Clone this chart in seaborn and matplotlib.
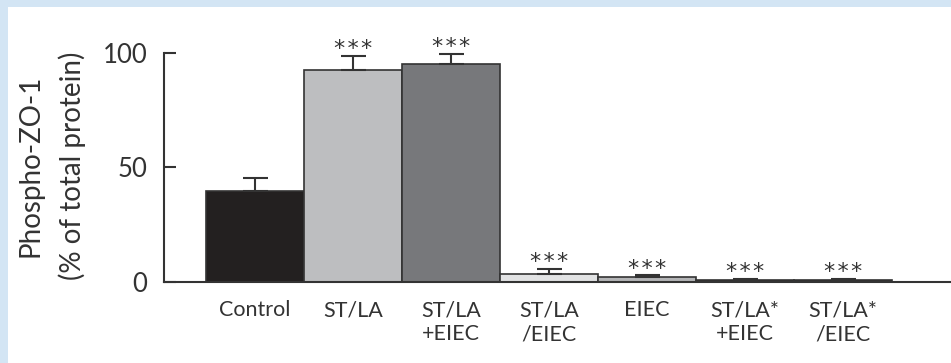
import matplotlib
matplotlib.use('Agg')
import matplotlib.pyplot as plt
import seaborn as sns
import numpy as np
from matplotlib.patches import Rectangle

# data
groups = ['Control', 'ST/LA', 'ST/LA\n+EIEC', 'ST/LA\n/EIEC', 'EIEC',
          'ST/LA*\n+EIEC', 'ST/LA*\n/EIEC']
means = [39.7, 92.6, 95.2, 3.5, 2.2, 1.0, 1.0]
sem = [5.8, 6.1, 4.4, 2.2, 0.7, 0.4, 0.4]
stars = ['', '***', '***', '***', '***', '***', '***']
colors = ['#231f20', '#bcbec0', '#77787b', '#e2e3e4', '#b4b5b7', '#231f20', '#231f20']

sns.set_theme(style='white')
plt.rcParams['font.family'] = ['Lato', 'DejaVu Sans']
ink = '#333333'

fig = plt.figure(figsize=(9.51, 3.63), dpi=100)
fig.patch.set_facecolor('#d3e5f4')
# white inner page over the blue border
fig.patches.append(Rectangle((8 / 951, 0), 1, 1 - 7 / 363, transform=fig.transFigure,
                             facecolor='white', edgecolor='none', zorder=-10))

ax = fig.add_axes([164 / 951, 1 - 282 / 363, 1 - 164 / 951, (282 - 53) / 363])
ax.set_facecolor('none')

sns.barplot(x=groups, y=means, hue=groups, palette=colors, width=1.0,
            edgecolor=ink, linewidth=1.2, legend=False, ax=ax, zorder=2)

x = np.arange(len(groups))
ax.errorbar(x, means, yerr=[np.zeros(len(sem)), sem], fmt='none', ecolor=ink,
            elinewidth=1.5, capsize=9, capthick=1.5, zorder=3, clip_on=False)

for xi, m, e, s in zip(x, means, sem, stars):
    if s:
        # slightly spaced asterisks like the original typesetting
        ax.annotate('\u200a'.join(s), (xi, m + e), xytext=(0, 0.5),
                    textcoords='offset points', ha='center', va='baseline',
                    fontsize=16, color=ink, family='DejaVu Sans')

ax.set_xlim(-0.93, 7.10)
ax.set_ylim(0, 100)
ax.set_yticks([0, 50, 100])
ax.tick_params(axis='y', direction='in', length=8.5, width=1.5, color=ink,
               labelsize=18.5, labelcolor=ink, pad=12, left=True)
ax.tick_params(axis='x', length=0, labelsize=15.5, labelcolor=ink, pad=13)
for lab in ax.get_xticklabels():
    lab.set_linespacing(1.25)

sns.despine(ax=ax)
for sp in ['left', 'bottom']:
    ax.spines[sp].set_color(ink)
    ax.spines[sp].set_linewidth(1.5)

fig.text(52 / 951, 1 - 166 / 363, 'Phospho-ZO-1\n(% of total protein)', fontsize=20,
         color=ink, rotation=90, ha='center', va='center', linespacing=1.65)

fig.savefig('out.png', dpi=100, facecolor=fig.get_facecolor())
